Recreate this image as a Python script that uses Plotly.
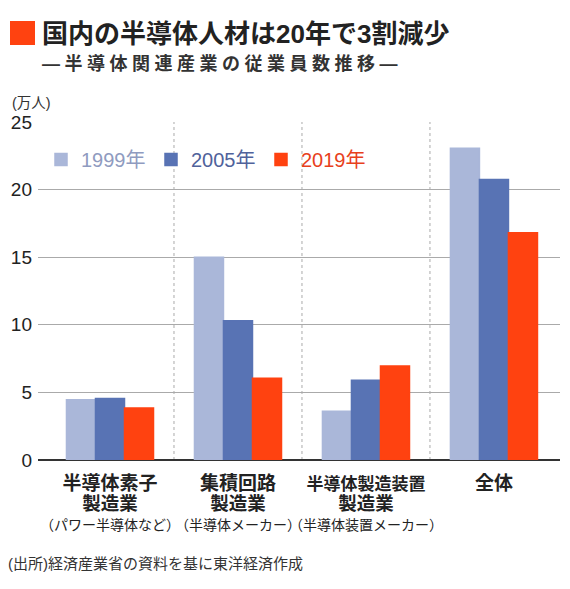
import plotly.graph_objects as go

categories = ["半導体素子製造業", "集積回路製造業", "半導体製造装置製造業", "全体"]
tick_line1 = ["半導体素子", "集積回路", "半導体製造装置", "全体"]
tick_line2 = ["製造業", "製造業", "製造業", ""]
tick_line3 = ["（パワー半導体など）", "（半導体メーカー）", "（半導体装置メーカー）", ""]
line1_size = [19, 19, 17, 19]

years = ["1999年", "2005年", "2019年"]
v1999 = [4.45, 15.0, 3.6, 23.05]
v2005 = [4.55, 10.3, 5.9, 20.75]
v2019 = [3.85, 6.05, 6.95, 16.8]
series = [v1999, v2005, v2019]

bar_colors = ["#aab7d9", "#5873b4", "#ff4210"]
text_colors = ["#8f9bc0", "#50629b", "#e8401c"]

y_ticks = [0, 5, 10, 15, 20, 25]

# page body has an 8px margin; work in reference-window pixels
OFF = 8
W, H = 570 - 2 * OFF, 589 - 2 * OFF
ML, MT = 38 - OFF, 122 - OFF
PLOT_R, PLOT_B = 560 - OFF, 460 - OFF
MR, MB = W - PLOT_R, H - PLOT_B
PW, PH = PLOT_R - ML, PLOT_B - MT


def px(x):
    return (x - OFF - ML) / PW


def py(y):
    return (PLOT_B - (y - OFF)) / PH


FONT = "Liberation Sans, Noto Sans CJK JP, sans-serif"

ticktext = []
for a, b, c, s in zip(tick_line1, tick_line2, tick_line3, line1_size):
    t = f"<span style='font-size:{s}px'><b>{a}</b></span>"
    if b:
        t += f"<br><span style='font-size:18.5px'><b>{b}</b></span>"
    if c:
        t += f"<br><span style='font-size:14px'>{c}</span>"
    ticktext.append(t)

fig = go.Figure()
for name, vals, bc, tc in zip(years, series, bar_colors, text_colors):
    fig.add_trace(go.Bar(
        x=categories, y=vals,
        name=f"<span style='color:{tc}'>{name}</span>",
        marker=dict(color=bc, line=dict(color=bc, width=1.5)),
    ))

shapes = []
for i in range(len(categories) - 1):
    shapes.append(dict(type="line", xref="x", yref="y", x0=i + 0.5, x1=i + 0.5,
                       y0=0, y1=25, line=dict(color="#aaaaaa", width=1, dash="dot"),
                       layer="below"))
shapes.append(dict(type="rect", xref="paper", yref="paper",
                   x0=px(10), x1=px(35), y0=py(45), y1=py(21),
                   fillcolor="#ff4210", line=dict(width=0)))

annotations = [
    dict(text="<b>国内の半導体人材は20年で3割減少</b>", xref="paper", yref="paper",
         x=px(40), y=py(34), xanchor="left", yanchor="middle", showarrow=False,
         font=dict(size=26, color="#222222", family=FONT)),
    dict(text="<b><span style='letter-spacing:4.5px'>―半導体関連産業の従業員数推移―</span></b>",
         xref="paper", yref="paper",
         x=px(40), y=py(64), xanchor="left", yanchor="middle", showarrow=False,
         font=dict(size=18, color="#333333", family=FONT)),
    dict(text="(万人)", xref="paper", yref="paper",
         x=px(10), y=py(102.5), xanchor="left", yanchor="middle", showarrow=False,
         font=dict(size=14.5, color="#333333", family=FONT)),
    dict(text="(出所)経済産業省の資料を基に東洋経済作成", xref="paper", yref="paper",
         x=px(6), y=py(563), xanchor="left", yanchor="middle", showarrow=False,
         font=dict(size=15, color="#333333", family=FONT)),
]

fig.update_layout(
    width=W, height=H,
    margin=dict(l=ML, r=MR, t=MT, b=MB, pad=0),
    paper_bgcolor="white", plot_bgcolor="white",
    font=dict(family=FONT, color="#222222"),
    barmode="group", bargap=0.32, bargroupgap=0,
    showlegend=True,
    legend=dict(orientation="h", x=px(41), y=py(159.5), xanchor="left", yanchor="middle",
                font=dict(size=20, family=FONT), entrywidth=65, entrywidthmode="pixels",
                bgcolor="rgba(0,0,0,0)", traceorder="normal"),
    shapes=shapes,
    annotations=annotations,
    xaxis=dict(range=[-0.5625, 3.516], tickmode="array", tickvals=categories,
               ticktext=ticktext, tickfont=dict(size=15.5, color="#222222", family=FONT),
               showgrid=False, zeroline=False, showline=False, ticks="",
               ticklabelstandoff=13, tickangle=0, automargin=False),
    yaxis=dict(range=[0, 25], tickvals=y_ticks, tickfont=dict(size=19, color="#222222", family=FONT),
               showgrid=True, gridcolor="#aaaaaa", gridwidth=1,
               zeroline=True, zerolinecolor="#333333", zerolinewidth=1.5,
               showline=False, ticks="", ticklabelstandoff=5, automargin=False),
)

fig.write_html("out.html")
